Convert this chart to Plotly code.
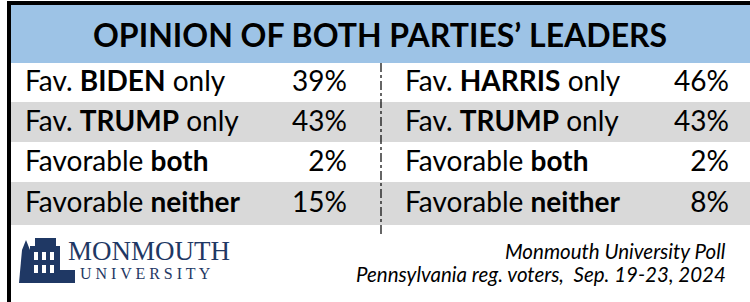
import plotly.graph_objects as go

# ---------------- data ----------------
title = "OPINION OF BOTH PARTIES’ LEADERS"
left_labels = ["Fav. <b>BIDEN</b> only", "Fav. <b>TRUMP</b> only",
               "Favorable <b>both</b>", "Favorable <b>neither</b>"]
left_values = [39, 43, 2, 15]
right_labels = ["Fav. <b>HARRIS</b> only", "Fav. <b>TRUMP</b> only",
                "Favorable <b>both</b>", "Favorable <b>neither</b>"]
right_values = [46, 43, 2, 8]
row_shaded = [False, True, False, True]
source_lines = ["Monmouth University Poll",
                "Pennsylvania reg. voters,  Sep. 19-23, 2024"]
logo_top = "MONMOUTH"
logo_bottom = "UNIVERSITY"

# ---------------- layout constants ----------------
W, H = 750, 302
FONT = "Lato"
HEADER_BLUE = "#9DC3E6"
ROW_GRAY = "#D9D9D9"
NAVY = "#1F3864"
row_edges = [63, 102, 142, 182, 225]
row_centers = [(row_edges[i] + row_edges[i + 1]) / 2 + 1.5 for i in range(4)]

fig = go.Figure()
shapes = []
annotations = []

# borders
shapes.append(dict(type="rect", x0=7, x1=W, y0=1, y1=5, fillcolor="black", line_width=0, layer="above"))
shapes.append(dict(type="rect", x0=7, x1=11, y0=1, y1=H, fillcolor="black", line_width=0, layer="above"))
# header
shapes.append(dict(type="rect", x0=11, x1=W, y0=5, y1=row_edges[0], fillcolor=HEADER_BLUE, line_width=0, layer="below"))
annotations.append(dict(x=380, y=34, text="<b>" + title + "</b>", showarrow=False,
                        font=dict(family=FONT, size=32, color="black"), xanchor="center", yanchor="middle"))

# row shading
for i, shaded in enumerate(row_shaded):
    if shaded:
        shapes.append(dict(type="rect", x0=11, x1=W, y0=row_edges[i], y1=row_edges[i + 1],
                           fillcolor=ROW_GRAY, line_width=0, layer="below"))

# divider
shapes.append(dict(type="line", x0=381, x1=381, y0=row_edges[0], y1=234,
                   line=dict(color="black", width=1.2, dash="dashdot"), layer="above"))

ROW_FONT = dict(family=FONT, size=28, color="black")
# labels
fig.add_trace(go.Scatter(x=[25] * 4, y=row_centers, mode="text", text=left_labels,
                         textposition="middle right", hoverinfo="skip", textfont=ROW_FONT))
fig.add_trace(go.Scatter(x=[405] * 4, y=row_centers, mode="text", text=right_labels,
                         textposition="middle right", hoverinfo="skip", textfont=ROW_FONT))
# values
fig.add_trace(go.Scatter(x=[347] * 4, y=row_centers, mode="text",
                         text=[f"{v}%" for v in left_values],
                         textposition="middle left", hoverinfo="skip", textfont=ROW_FONT))
fig.add_trace(go.Scatter(x=[729] * 4, y=row_centers, mode="text",
                         text=[f"{v}%" for v in right_values],
                         textposition="middle left", hoverinfo="skip", textfont=ROW_FONT))

# source
for j, line in enumerate(source_lines):
    annotations.append(dict(x=728, y=251 + 23 * j, text="<i>" + line + "</i>", showarrow=False,
                            font=dict(family=FONT, size=20.5, color="black"),
                            xanchor="right", yanchor="middle"))

# logo text
annotations.append(dict(x=66, y=251, text=logo_top, showarrow=False,
                        font=dict(family="Liberation Serif", size=27, color=NAVY),
                        xanchor="left", yanchor="middle"))
annotations.append(dict(x=78, y=273, text=" ".join(logo_bottom),
                        showarrow=False,
                        font=dict(family="Liberation Serif", size=16, color=NAVY),
                        xanchor="left", yanchor="middle"))

# logo building (decorative)
shapes += [
    dict(type="rect", x0=30, x1=60, y0=246, y1=283, fillcolor=NAVY, line_width=0),
    dict(type="rect", x0=35, x1=56, y0=238, y1=246, fillcolor=NAVY, line_width=0),
    dict(type="path", path="M 19 283 L 22 250 L 26 240 L 30 250 L 32 283 Z", fillcolor=NAVY, line_width=0),
    dict(type="rect", x0=58, x1=75, y0=270, y1=283, fillcolor=NAVY, line_width=0),
]
for wx in (34, 42, 50):
    for wy in (252, 265):
        shapes.append(dict(type="rect", x0=wx, x1=wx + 4, y0=wy, y1=wy + 8, fillcolor="white", line_width=0))

fig.update_layout(
    width=W, height=H, margin=dict(l=0, r=0, t=0, b=0),
    paper_bgcolor="white", plot_bgcolor="white", showlegend=False,
    xaxis=dict(range=[0, W], visible=False, fixedrange=True),
    yaxis=dict(range=[H, 0], visible=False, fixedrange=True),
    shapes=shapes, annotations=annotations,
)
fig.write_html("out.html", config={"displayModeBar": False},
               post_script="document.body.style.margin='0';document.body.style.overflow='hidden';")
